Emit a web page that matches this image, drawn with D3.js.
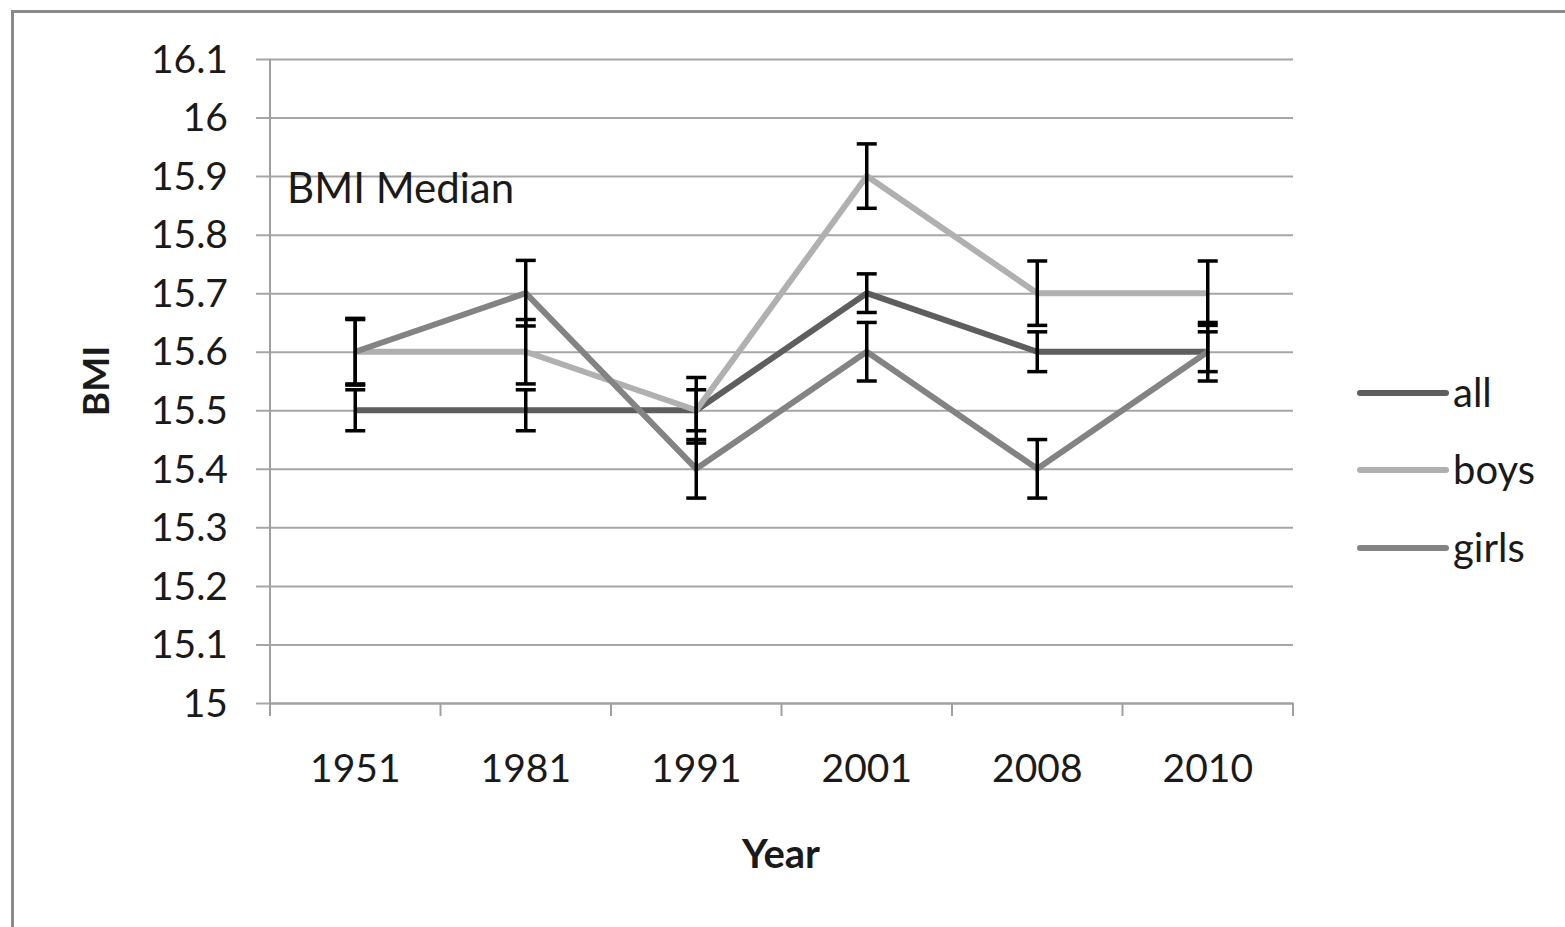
<!DOCTYPE html>
<html><head><meta charset="utf-8">
<script src="https://cdn.jsdelivr.net/npm/d3@7"></script>
<style>
html,body{margin:0;padding:0;background:#fff;}
svg{display:block;}
text{font-family:Lato,"Open Sans",sans-serif;fill:#1a1a1a;}
</style></head>
<body>
<svg id="c" width="1565" height="927"></svg>
<script>
const years = ["1951","1981","1991","2001","2008","2010"];
const allVals   = [15.5, 15.5, 15.5, 15.7, 15.6, 15.6];
const boysVals  = [15.6, 15.6, 15.5, 15.9, 15.7, 15.7];
const girlsVals = [15.6, 15.7, 15.4, 15.6, 15.4, 15.6];
const allErr   = [0.035, 0.035, 0.035, 0.033, 0.034, 0.034];
const boysErr  = [0.055, 0.055, 0.056, 0.055, 0.055, 0.055];
const girlsErr = [0.057, 0.056, 0.05, 0.05, 0.05, 0.05];
const yTicks = [15, 15.1, 15.2, 15.3, 15.4, 15.5, 15.6, 15.7, 15.8, 15.9, 16, 16.1];
const seriesNames = ["all","boys","girls"];
const seriesColors = ["#5e5e5e","#b0b0b0","#838383"];

const series = [
  {name: seriesNames[0], vals: allVals, err: allErr, color: seriesColors[0]},
  {name: seriesNames[1], vals: boysVals, err: boysErr, color: seriesColors[1]},
  {name: seriesNames[2], vals: girlsVals, err: girlsErr, color: seriesColors[2]}
];

const svg = d3.select("#c");
const L = 270, R = 1293, T = 59, B = 703;

// outer frame
svg.append("path").attr("d", `M12.5,927 L12.5,11.5 L1565,11.5`)
  .attr("fill","none").attr("stroke","#8a8a8a").attr("stroke-width",3);

const x = d3.scaleBand().domain(years).range([L, R]).padding(0);
const y = d3.scaleLinear().domain([15, 16.1]).range([B, T]);

// gridlines + y axis ticks
const yAxis = d3.axisLeft(y).tickValues(yTicks).tickSize(R - L + 14).tickFormat(d3.format("~g"));
const gy = svg.append("g").attr("transform", `translate(${R},0)`).call(yAxis);
gy.select(".domain").remove();
gy.selectAll(".tick line").attr("stroke","#a6a6a6").attr("stroke-width",2);
gy.selectAll(".tick text").attr("x", -(R - L) - 42).attr("font-size", 39).attr("dy","0.34em").style("fill","#1a1a1a");

// y axis line
svg.append("line").attr("x1",L).attr("x2",L).attr("y1",T).attr("y2",B)
  .attr("stroke","#a0a0a0").attr("stroke-width",2);

// x axis
const xAxis = d3.axisBottom(x).tickSize(0).tickPadding(51);
const gx = svg.append("g").attr("transform", `translate(0,${B})`).call(xAxis);
gx.select(".domain").attr("stroke","#a0a0a0").attr("stroke-width",2);
gx.selectAll(".tick text").attr("font-size", 39).style("fill","#1a1a1a");
// band boundary ticks
const bounds = years.map(d => x(d)).concat([R]);
svg.append("g").selectAll("line").data(bounds).join("line")
  .attr("x1", d => d).attr("x2", d => d).attr("y1", B).attr("y2", B + 13)
  .attr("stroke","#a0a0a0").attr("stroke-width",2);

const cx = d => x(d) + x.bandwidth() / 2;

// lines
const line = d3.line().x((v, i) => cx(years[i])).y(v => y(v));
series.forEach(s => {
  svg.append("path").datum(s.vals).attr("d", line)
    .attr("fill","none").attr("stroke", s.color).attr("stroke-width",6)
    .attr("stroke-linejoin","round");
});

// error bars
const cap = 10;
series.forEach(s => {
  const g = svg.append("g").attr("stroke","#000").attr("stroke-width",3.5);
  s.vals.forEach((v, i) => {
    const xc = cx(years[i]);
    const y1 = y(v + s.err[i]), y2 = y(v - s.err[i]);
    g.append("line").attr("x1",xc).attr("x2",xc).attr("y1",y1).attr("y2",y2);
    g.append("line").attr("x1",xc-cap).attr("x2",xc+cap).attr("y1",y1).attr("y2",y1);
    g.append("line").attr("x1",xc-cap).attr("x2",xc+cap).attr("y1",y2).attr("y2",y2);
  });
});

// in-plot label
svg.append("text").attr("x", 287).attr("y", 203).attr("font-size", 42).text("BMI Median");

// axis titles
svg.append("text").attr("transform","translate(109,381) rotate(-90)").attr("text-anchor","middle")
  .attr("font-size", 37).attr("font-weight","bold").text("BMI");
svg.append("text").attr("x", 781).attr("y", 868).attr("text-anchor","middle")
  .attr("font-size", 40).attr("font-weight","bold").text("Year");

// legend
const legY = [393, 470, 548];
const lg = svg.append("g").selectAll("g").data(series).join("g")
  .attr("transform", (d, i) => `translate(0,${legY[i]})`);
lg.append("line").attr("x1",1360).attr("x2",1446).attr("y1",0).attr("y2",0)
  .attr("stroke", d => d.color).attr("stroke-width",6).attr("stroke-linecap","round");
lg.append("text").attr("x",1453).attr("y",0).attr("dy","0.36em").attr("font-size",40).text(d => d.name);
</script>
</body></html>
